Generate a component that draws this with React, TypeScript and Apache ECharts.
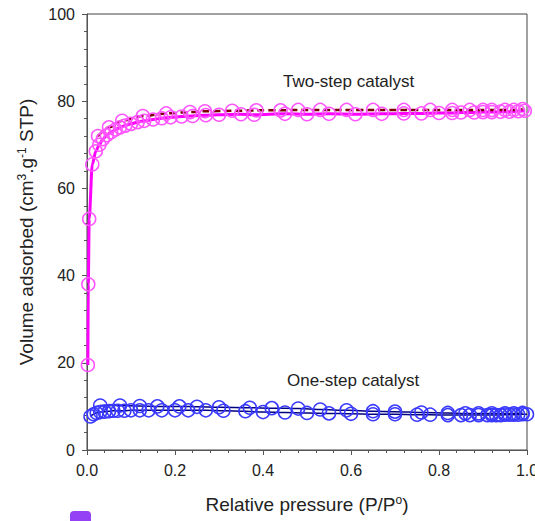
import React, { useEffect, useRef } from "react";
import * as echarts from "echarts";

const xTicks = [0, 0.2, 0.4, 0.6, 0.8, 1.0];
const yTicks = [0, 20, 40, 60, 80, 100];

const twoAdsP = [0.002, 0.003, 0.005, 0.012, 0.02, 0.028, 0.036, 0.045, 0.055, 0.065, 0.075, 0.087, 0.1, 0.115, 0.13, 0.15, 0.17, 0.19, 0.215, 0.24, 0.27, 0.3, 0.35, 0.38, 0.45, 0.5, 0.55, 0.61, 0.67, 0.72, 0.76, 0.8, 0.83, 0.85, 0.88, 0.9, 0.92, 0.94, 0.96, 0.98, 0.995];
const twoAdsV = [19.5, 38, 53, 65.5, 68.5, 70, 71.3, 72.2, 72.9, 73.5, 74, 74.4, 74.8, 75.2, 75.5, 75.8, 76.1, 76.3, 76.5, 76.6, 76.8, 76.9, 77, 76.9, 77.1, 77.0, 77.1, 77.0, 77.1, 77.2, 77.2, 77.3, 77.3, 77.4, 77.4, 77.5, 77.5, 77.6, 77.6, 77.7, 77.8];

const twoDesP = [0.025, 0.05, 0.08, 0.127, 0.18, 0.234, 0.268, 0.33, 0.385, 0.44, 0.48, 0.53, 0.59, 0.65, 0.72, 0.78, 0.83, 0.87, 0.9, 0.92, 0.95, 0.97, 0.99];
const twoDesV = [72, 74, 75.5, 76.6, 77.2, 77.5, 77.7, 77.8, 77.9, 77.9, 78, 78, 78, 78, 78, 78, 78, 78, 78, 78, 78, 78, 78.2];

const oneAdsP = [0.008, 0.015, 0.022, 0.03, 0.04, 0.05, 0.06, 0.07, 0.085, 0.1, 0.12, 0.14, 0.17, 0.2, 0.23, 0.27, 0.31, 0.36, 0.4, 0.45, 0.5, 0.55, 0.6, 0.65, 0.7, 0.75, 0.78, 0.82, 0.85, 0.87, 0.89, 0.91, 0.92, 0.93, 0.94, 0.95, 0.96, 0.97, 0.98, 0.99, 1.0];
const oneAdsV = [7.7, 8.2, 8.5, 8.7, 8.8, 8.9, 9.0, 9.0, 9.0, 9.1, 9.1, 9.1, 9.1, 9.1, 9.1, 9.1, 9.0, 8.9, 8.7, 8.6, 8.5, 8.4, 8.3, 8.2, 8.2, 8.1, 8.1, 8.0, 8.0, 8.0, 8.0, 8.0, 8.0, 8.0, 8.0, 8.1, 8.1, 8.1, 8.1, 8.2, 8.2];

const oneDesP = [0.03, 0.075, 0.12, 0.16, 0.21, 0.25, 0.3, 0.37, 0.42, 0.48, 0.53, 0.59, 0.65, 0.7, 0.76, 0.82, 0.86, 0.89, 0.92, 0.95, 0.97, 0.99];
const oneDesV = [10.2, 10.2, 10.1, 10.0, 10.0, 9.9, 9.8, 9.7, 9.6, 9.5, 9.3, 9.1, 8.9, 8.8, 8.6, 8.5, 8.4, 8.4, 8.4, 8.4, 8.4, 8.5];

const labelTwo = "Two-step catalyst";
const labelOne = "One-step catalyst";

const zip = (a: number[], b: number[]) => a.map((x, i) => [x, b[i]]);

export default function App() {
  const ref = useRef<HTMLDivElement>(null);
  useEffect(() => {
    document.body.style.margin = "0";
    const chart = echarts.init(ref.current!, null, { renderer: "svg" });
    const font = "Liberation Sans, Arial, sans-serif";
    const axisColor = "#555";
    const sup = { fontSize: 12, fontFamily: font, color: "#222", verticalAlign: "top", padding: [0, 0, 9, 0] };
    chart.setOption({
      animation: false,
      grid: { left: 87, right: 8, top: 14, bottom: 71, show: true, borderColor: "#444", borderWidth: 1, outerBoundsMode: "none", containLabel: false },
      xAxis: {
        type: "value",
        min: xTicks[0],
        max: xTicks[xTicks.length - 1],
        interval: 0.2,
        name: "Relative pressure (P/P{sup|o})",
        nameLocation: "middle",
        nameGap: 44,
        nameTextStyle: { fontFamily: font, fontSize: 19, color: "#222", rich: { sup } },
        axisLine: { lineStyle: { color: axisColor, width: 1 } },
        axisTick: { show: true, length: 5, lineStyle: { color: axisColor } },
        minorTick: { show: true, splitNumber: 5, length: 3, lineStyle: { color: axisColor } },
        splitLine: { show: false },
        axisLabel: { fontFamily: font, fontSize: 16, color: "#222", margin: 12, formatter: (v: number) => v.toFixed(1), hideOverlap: false },
      },
      yAxis: {
        type: "value",
        min: yTicks[0],
        max: yTicks[yTicks.length - 1],
        interval: 20,
        name: "Volume adsorbed (cm{sup|3}.g{sup|-1} STP)",
        nameLocation: "middle",
        nameGap: 50,
        nameTextStyle: { fontFamily: font, fontSize: 19, color: "#222", rich: { sup } },
        axisLine: { show: true, lineStyle: { color: axisColor, width: 1 } },
        axisTick: { show: true, length: 5, lineStyle: { color: axisColor } },
        minorTick: { show: true, splitNumber: 5, length: 3, lineStyle: { color: axisColor } },
        splitLine: { show: false },
        axisLabel: { fontFamily: font, fontSize: 16, color: "#222", margin: 12 },
      },
      series: [
        {
          type: "line", data: zip(oneAdsP, oneAdsV), smooth: 0.3, smoothMonotone: "x",
          lineStyle: { color: "#000080", width: 1.5 },
          symbol: "circle", symbolSize: 13, showAllSymbol: true,
          itemStyle: { color: "rgba(0,0,0,0)", borderColor: "#3a3aff", borderWidth: 1.5 },
        },
        {
          type: "line", data: zip(oneDesP, oneDesV), smooth: 0.3, smoothMonotone: "x",
          lineStyle: { color: "#000080", width: 1.5 },
          symbol: "circle", symbolSize: 13, showAllSymbol: true,
          itemStyle: { color: "rgba(0,0,0,0)", borderColor: "#3a3aff", borderWidth: 1.5 },
        },
        {
          type: "line", data: zip(twoAdsP, twoAdsV), smooth: 0.3, smoothMonotone: "x",
          lineStyle: { color: "#ff00ff", width: 3 },
          symbol: "circle", symbolSize: 13, showAllSymbol: true,
          itemStyle: { color: "rgba(0,0,0,0)", borderColor: "#ff55ff", borderWidth: 1.5 },
        },
        {
          type: "line", data: zip(twoDesP, twoDesV), smooth: 0.3, smoothMonotone: "x",
          lineStyle: { color: "#7a0000", width: 2.5, type: [7, 4] },
          symbol: "circle", symbolSize: 13, showAllSymbol: true,
          itemStyle: { color: "rgba(0,0,0,0)", borderColor: "#ff55ff", borderWidth: 1.5 },
        },
      ],
      graphic: [
        { type: "text", left: 283, top: 73, style: { text: labelTwo, fontFamily: font, fontSize: 17, fill: "#222" } },
        { type: "text", left: 287, top: 372, style: { text: labelOne, fontFamily: font, fontSize: 17, fill: "#222" } },
        { type: "rect", left: 70, top: 511, shape: { width: 21, height: 14, r: 4 }, style: { fill: "#9440f5" } },
      ],
    });
    return () => chart.dispose();
  }, []);
  return <div ref={ref} style={{ width: 535, height: 521 }} />;
}
